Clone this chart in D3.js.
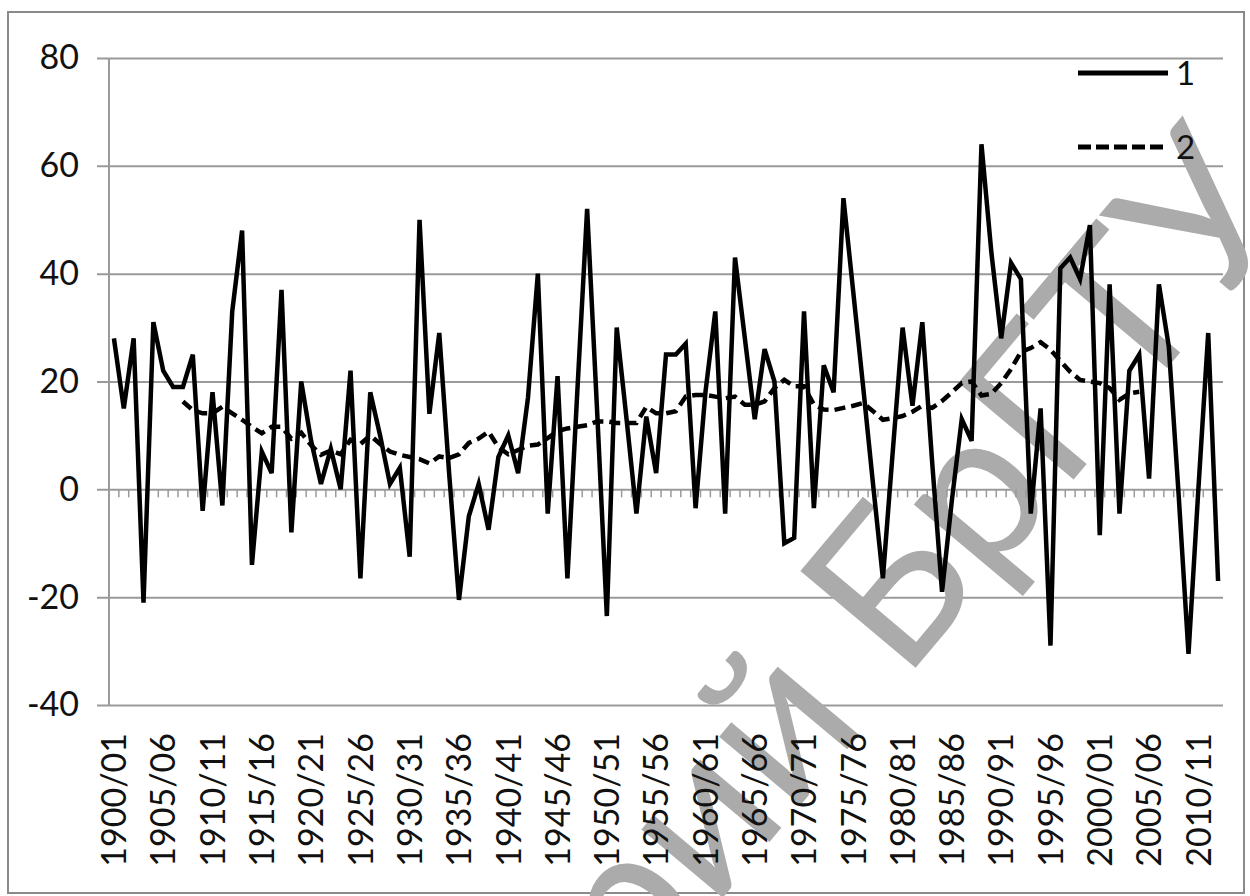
<!DOCTYPE html>
<html>
<head>
<meta charset="utf-8">
<script src="https://cdn.jsdelivr.net/npm/d3@7"></script>
<style>
  body { margin: 0; background: #fff; }
  svg text { font-family: Lato, "Open Sans", sans-serif; fill: #111; }
</style>
</head>
<body>
<div id="chart"></div>
<script>
var svgWidth = 1250;
var svgHeight = 896;

// seasons 1900/01 .. 2012/13
var categories = [];
for (var yr = 1900; yr <= 2012; yr++) {
    categories.push(yr + "/" + String((yr + 1) % 100).padStart(2, "0"));
}

// series 1 (solid)
var series1 = [
    28, 15, 28, -21, 31, 22, 19, 19, 25, -4,
    18, -3, 33, 48, -14, 7, 3, 37, -8, 20,
    9, 1, 7.5, 0, 22, -16.5, 18, 10, 1, 4,
    -12.5, 50, 14, 29, 3, -20.5, -5, 1, -7.5, 6,
    10, 3, 17, 40, -4.5, 21, -16.5, 18, 52, 15,
    -23.5, 30, 13, -4.5, 13.5, 3, 25, 25, 27, -3.5,
    18, 33, -4.5, 43, 28, 13, 26, 20, -10, -9,
    33, -3.5, 23, 18, 54, 36.5, 19, 1, -16.5, 7,
    30, 15.5, 31, 5, -19, -2, 13, 9, 64, 44,
    28, 42, 39, -4.5, 15, -29, 41, 43, 39, 49,
    -8.5, 38, -4.5, 22, 25, 2, 38, 26.5, -1, -30.5,
    0, 29, -17
];

// series 2 (dashed), starts at 1907/08
var series2Start = 7;
var series2 = [
    16.3, 14.7, 14.1, 14.1, 15.3, 14.1, 12.9, 11.6, 10.4, 11.6,
    11.6, 9.4, 10.5, 8.2, 6.4, 7.2, 6.5, 9.2, 8.4, 10,
    8.4, 7, 6.4, 6, 5.6, 4.8, 6.1, 5.8, 6.5, 8.6,
    9.4, 10.7, 7.8, 6.5, 7.3, 8.1, 8.3, 9.5, 10.8, 11.3,
    11.6, 11.9, 12.6, 12.6, 12.3, 12.3, 12.3, 15.3, 14.1, 14.1,
    14.5, 17.2, 17.5, 17.5, 17.2, 16.9, 17.2, 15.7, 15.7, 16.3,
    18.8, 20.3, 19.1, 19.1, 15.7, 14.8, 14.7, 15.1, 15.5, 16,
    14.5, 12.9, 13.2, 13.6, 14.4, 15.5, 15.1, 16.4, 18, 19.7,
    20, 17.4, 17.7, 19.7, 22.3, 25.5, 26.2, 27.3, 25.9, 23.8,
    21.8, 20.3, 20, 19.7, 18.8, 16.6, 17.8, 18.1
];

var yTicks = [-40, -20, 0, 20, 40, 60, 80];
var legendLabels = ["1", "2"];
var watermark = "Репозиторий БрГТУ";

var plot = { left: 109, right: 1223, top: 58, bottom: 705 };

var svg = d3.select("#chart")
    .append("svg")
    .attr("width", svgWidth)
    .attr("height", svgHeight);

// outer frame
svg.append("rect")
    .attr("x", 8).attr("y", 12)
    .attr("width", 1236).attr("height", 881)
    .attr("fill", "#fff")
    .attr("stroke", "#8a8a8a")
    .attr("stroke-width", 2);

var xscale = d3.scaleBand()
    .domain(categories)
    .range([plot.left, plot.right]);

var yscale = d3.scaleLinear()
    .domain([-40, 80])
    .range([plot.bottom, plot.top]);

var cx = function (i) { return xscale(categories[i]) + xscale.bandwidth() / 2; };

// gridlines + y labels
var leftAxis = d3.axisLeft(yscale)
    .tickValues(yTicks)
    .tickFormat(d => String(d))
    .tickSize(-(plot.right - 97))
    .tickPadding(18);

var yAxis = svg.append("g")
    .attr("transform", "translate(97,0)")
    .call(leftAxis);
yAxis.select(".domain").remove();
yAxis.selectAll(".tick line")
    .attr("stroke", "#9a9a9a")
    .attr("stroke-width", 2);
yAxis.selectAll(".tick text")
    .attr("font-size", 34)
    .attr("fill", "#111");

// vertical value axis line
svg.append("line")
    .attr("x1", plot.left).attr("x2", plot.left)
    .attr("y1", plot.top).attr("y2", plot.bottom)
    .attr("stroke", "#9a9a9a")
    .attr("stroke-width", 2);

// watermark
svg.append("text")
    .attr("transform", "translate(1298,212) rotate(-50)")
    .attr("text-anchor", "end")
    .attr("font-family", "Liberation Sans, Arial, sans-serif")
    .attr("font-size", 210)
    .style("fill", "#ababab")
    .text(watermark);

// category tick marks along the zero line
svg.append("g")
    .selectAll("line")
    .data(categories.slice(1))
    .enter()
    .append("line")
    .attr("x1", d => xscale(d))
    .attr("x2", d => xscale(d))
    .attr("y1", yscale(0))
    .attr("y2", yscale(0) + 8)
    .attr("stroke", "#9a9a9a")
    .attr("stroke-width", 1.5);

// category labels
svg.append("g")
    .selectAll("text")
    .data(categories.filter((d, i) => i % 5 === 0))
    .enter()
    .append("text")
    .attr("transform", d => `translate(${xscale(d) + xscale.bandwidth() / 2}, ${plot.bottom + 28}) rotate(-90)`)
    .attr("text-anchor", "end")
    .attr("dy", "0.36em")
    .attr("font-size", 34)
    .text(d => d);

// lines
var line = d3.line()
    .x(d => cx(d.i))
    .y(d => yscale(d.v));

svg.append("path")
    .datum(series2.map((v, k) => ({ i: k + series2Start, v: v })))
    .attr("d", line)
    .attr("fill", "none")
    .attr("stroke", "#000")
    .attr("stroke-width", 4.5)
    .attr("stroke-dasharray", "11,6");

svg.append("path")
    .datum(series1.map((v, k) => ({ i: k, v: v })))
    .attr("d", line)
    .attr("fill", "none")
    .attr("stroke", "#000")
    .attr("stroke-width", 4.5)
    .attr("stroke-linejoin", "miter");

// legend
var legend = svg.append("g");
legendLabels.forEach(function (lab, k) {
    var ly = 73 + k * 74;
    legend.append("line")
        .attr("x1", 1078).attr("x2", 1168)
        .attr("y1", ly).attr("y2", ly)
        .attr("stroke", "#000")
        .attr("stroke-width", 5)
        .attr("stroke-dasharray", k === 1 ? "13,5" : null);
    legend.append("text")
        .attr("x", 1176).attr("y", ly)
        .attr("dy", "0.36em")
        .attr("font-size", 33)
        .text(lab);
});
</script>
</body>
</html>
